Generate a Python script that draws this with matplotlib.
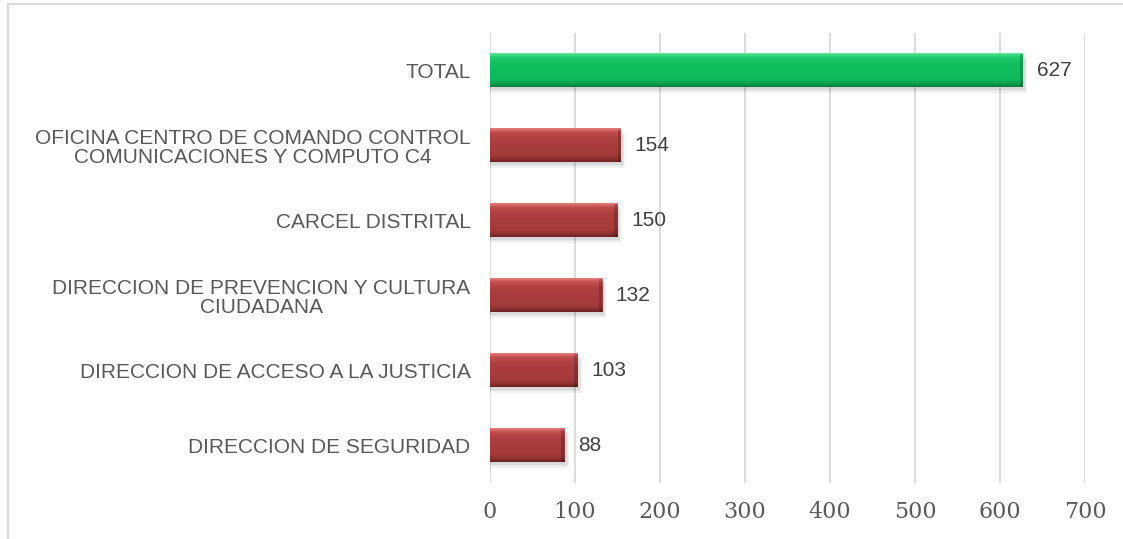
import numpy as np
import matplotlib.pyplot as plt
from matplotlib.colors import LinearSegmentedColormap
from matplotlib.patches import Rectangle

# DATA
categories = ['DIRECCION DE SEGURIDAD',
              'DIRECCION DE ACCESO A LA JUSTICIA',
              'DIRECCION DE PREVENCION Y CULTURA\nCIUDADANA',
              'CARCEL DISTRITAL',
              'OFICINA CENTRO DE COMANDO CONTROL\nCOMUNICACIONES Y COMPUTO C4',
              'TOTAL']
values = [88, 103, 132, 150, 154, 627]
xticks = [0, 100, 200, 300, 400, 500, 600, 700]

# gradient colours (top light -> body -> bottom dark)
red_cmap = LinearSegmentedColormap.from_list(
    'r', [(0, '#e58080'), (0.12, '#c24c4c'), (0.3, '#ad3f3f'),
          (0.8, '#a33a3a'), (0.92, '#8a3030'), (1, '#6a2020')])
green_cmap = LinearSegmentedColormap.from_list(
    'g', [(0, '#5be59a'), (0.12, '#1fcc6c'), (0.3, '#12c060'),
          (0.8, '#0db85a'), (0.92, '#0b9a4a'), (1, '#087a38')])

fig = plt.figure(figsize=(11.23, 5.39), dpi=100)
ax = fig.add_axes([490/1123, 1 - 483/539, (1085 - 490)/1123, (483 - 33)/539])

y = np.arange(len(categories))
h = 0.45
grad = np.linspace(0, 1, 128).reshape(-1, 1)

for yi, v in zip(y, values):
    cmap = green_cmap if categories[yi] == 'TOTAL' else red_cmap
    # soft shadow
    for k, a in enumerate([0.05, 0.05, 0.05]):
        ax.add_patch(Rectangle((0, yi - h/2 - 0.03 - 0.02*k), v + 2 + 1.5*k, h,
                               color='#000000', alpha=a, lw=0, zorder=2))
    ax.imshow(grad, cmap=cmap, aspect='auto', extent=(0, v, yi - h/2, yi + h/2),
              origin='upper', zorder=3, interpolation='bicubic')
    # bevel at right end
    ax.add_patch(Rectangle((v - 4, yi - h/2), 4, h, color='#000000',
                           alpha=0.18, lw=0, zorder=4))
    ax.text(v + 16, yi, str(v), va='center', ha='left', fontsize=15,
            color='#404040', family='Liberation Sans')

ax.set_xlim(0, 700)
ax.set_ylim(-0.5, len(categories) - 0.5)
ax.set_xticks(xticks)
ax.set_xticklabels([str(t) for t in xticks], family='DejaVu Serif',
                   fontsize=16, color='#595959')
ax.set_yticks(y)
ax.set_yticklabels(categories, family='Liberation Sans', fontsize=15,
                   color='#595959', ha='right')
for lbl in ax.get_yticklabels():
    lbl.set_multialignment('center')
    lbl.set_linespacing(1.05)
ax.tick_params(axis='y', length=0, pad=14)
ax.tick_params(axis='x', length=0, pad=13)
ax.grid(axis='x', color='#d9d9d9', lw=1.3)
ax.set_axisbelow(True)
for s in ax.spines.values():
    s.set_visible(False)

# chart frame (top and left)
fig.add_artist(plt.Line2D([8/1123, 1], [1 - 4/539, 1 - 4/539], color='#d9d9d9', lw=1.5))
fig.add_artist(plt.Line2D([8/1123, 8/1123], [0, 1 - 4/539], color='#d9d9d9', lw=1.5))

fig.savefig('out.png', dpi=100)
